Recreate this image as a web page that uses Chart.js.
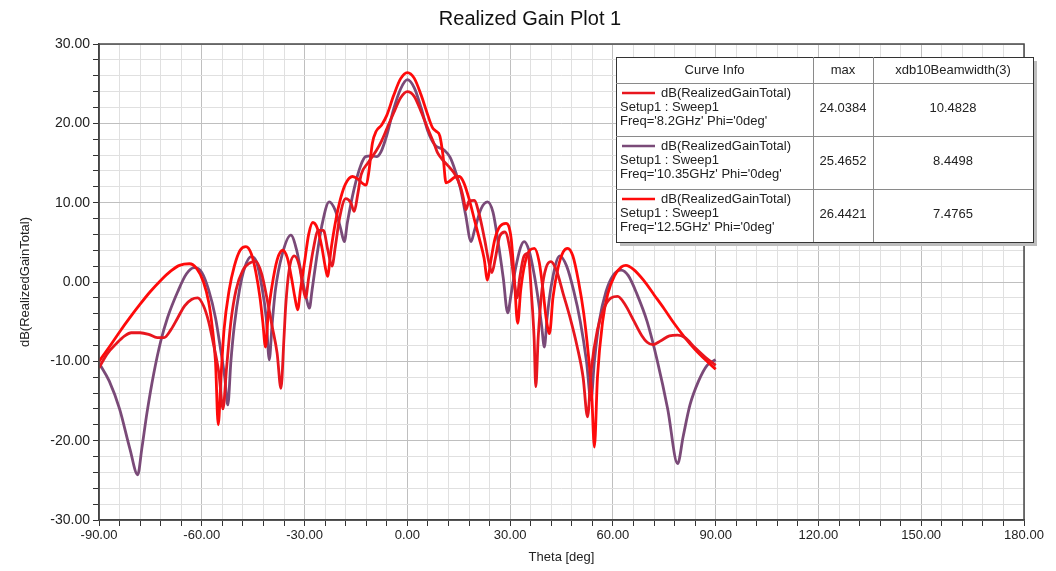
<!DOCTYPE html>
<html>
<head>
<meta charset="utf-8">
<script src="https://cdn.jsdelivr.net/npm/chart.js@4/dist/chart.umd.min.js"></script>
<style>
html,body{margin:0;padding:0;background:#fff}
canvas{display:block}
</style>
</head>
<body>
<canvas id="gainChart" width="1056" height="571"></canvas>
<script>
// curve data (theta in deg, gain in dB)
var theta82 = [-90,-87.5,-85,-82.5,-80.6,-78,-75.5,-73,-71,-69,-67,-65,-63,-61.2,-59.5,-58,-56.5,-55,-53.8,-52.8,-51.5,-50,-48,-46,-44.2,-42.5,-41,-39.5,-38,-36.9,-36,-35.5,-34.5,-33,-31.5,-30.5,-29.7,-28.8,-27.5,-26,-24.5,-23.2,-22,-21,-19.8,-18,-16.5,-15.5,-14.5,-13.5,-11.5,-9,-7.5,-6,-4,-2,0,2,4,6,8,8.8,10.5,12,13.7,15.5,16.4,17.1,18,19.5,21,22.5,23.8,24.7,25.7,27,28.5,30,31.2,32,32.8,34,35.2,36.3,37,37.5,38.2,39.3,40.5,41.9,43.5,45.5,47.5,49.5,51.3,52.6,53.7,55.5,57.5,59.5,61.4,63.5,66,68.5,70,71.6,74,76.5,78.9,81,84,87,90];
var gain82  = [-10.8,-9,-7.8,-6.8,-6.4,-6.4,-6.6,-7,-7,-6,-4.5,-3,-2.2,-2.0,-3,-5,-8,-11.5,-16,-11,-5,-1,1.5,2.4,2.6,1,-2,-5.5,-9,-13.4,-7,-3,1.5,3.3,2,-0.5,-2,0.5,4,6.5,6.5,4,2,4.5,8,10.5,10,8.9,11,13.5,15,16.6,17.8,19.3,21.3,23.2,24.0,23.4,21.5,19.3,17.2,16.3,15.3,14.6,13.7,12,10.5,9.1,10.2,10.3,8.5,5.5,2.5,1.2,3,5.8,6.3,4,0,-2,0.5,3.2,3.6,-2,-7,-13.2,-7,-1,1.8,2.56,1.5,-1.5,-4.5,-8,-12,-17,-11,-6,-3.2,-2,-1.8,-2.8,-4.8,-6.8,-7.6,-7.9,-7.4,-6.8,-6.7,-7,-8.3,-9.5,-10.5];

var theta1035 = [-90,-87,-84,-81,-78.7,-77.5,-76,-74,-72,-70,-67,-64.5,-62.2,-60,-58,-56,-54.5,-53.3,-52.4,-51.5,-50.5,-49,-47.5,-45.6,-44,-42.5,-41.2,-40.3,-39.5,-38.5,-36.5,-34,-32.3,-30.5,-29.4,-28.6,-27.8,-26.5,-25,-22.8,-21,-19.5,-18.4,-17.5,-15.5,-13.5,-12.2,-10.5,-9,-7.7,-6,-4,-2,0,2,4,6,8,10.8,12.5,14,15.5,17,18.6,19.6,21.5,23.4,25,26.5,28,29.3,30.3,31.5,33,34.1,35.5,37,38.3,39.2,40,40.8,42,44.5,46.5,48.5,50.5,52.3,53.6,54.6,56,58,60,62.4,64.5,67,70,73,76,78.9,80.5,82.5,85,87.5,90];
var gain1035  = [-10.2,-12.5,-16,-21,-24.3,-21,-16.5,-11.5,-7.5,-4.5,-1.2,1,1.8,1.2,-1,-4.5,-8.5,-12,-15.5,-10,-5.5,-1,1.8,3.2,2.5,-0.5,-4.5,-9.8,-5.5,-1,3.5,5.9,4,0,-2.2,-3.3,-1,3,7,10.1,9,6.8,5.1,7.5,11.8,14.8,15.8,15.9,15.8,16.4,18.5,21.8,24.3,25.5,24.5,22,19,17.3,16.6,15.7,14,11.8,8.5,5.1,6.5,9.2,10.1,8.8,5,0.5,-3.9,-1.5,1.5,4.3,5.1,4,1,-2.5,-5.5,-8.2,-4.5,-0.5,3.3,2,-1,-5,-10,-14.9,-10,-5,-1.2,0.8,1.5,0.8,-1.5,-5,-10,-16,-22.9,-19.5,-15.5,-12.5,-10.5,-9.8];

var theta125 = [-90,-87,-84,-81,-78,-75,-72,-69,-66.5,-63.6,-61.5,-59.5,-58,-57,-56,-55.2,-54.4,-53.5,-52,-50.5,-48.8,-47.1,-45.5,-44.2,-43,-42.2,-41.4,-40.6,-39.5,-38,-36.4,-35,-33.8,-32.8,-32,-31.2,-30,-28.8,-27.6,-26.3,-25,-24,-23.3,-22.3,-21,-19.5,-18,-16,-14.5,-13,-12,-11.2,-10.2,-9.1,-7.5,-6,-4,-2,0,2,4,6,7.3,8.4,9.5,10.4,11.3,12.3,13.8,15.2,16.5,18,19.5,21,22.4,23.4,24.3,25.6,27,28.8,30.3,31.3,32.2,33.1,34.3,35.7,37.1,38.5,39.6,40.5,41.5,42.5,44,45.5,46.8,48.3,50,51.5,52.8,53.8,54.6,55.5,57,58.5,60.5,62.5,63.8,66,69,72,75,78,81,84,87,90];
var gain125  = [-10,-8.2,-6.3,-4.5,-2.8,-1.2,0.2,1.4,2.1,2.3,1.7,0,-2.5,-5.5,-10,-18,-12,-6,-1,2,4,4.45,3.5,1.2,-2,-5,-8.2,-4,-0.5,2.8,4.0,3,0.5,-2,-3.5,-1,2.5,6,7.5,6.8,4.5,2,0.7,4,7.5,10.5,12.4,13.3,13,12.4,12.2,14,17.5,19.0,19.8,21,23.5,25.6,26.4,25.7,23.6,21,19.5,19.0,18.4,16,12.5,12.7,13.2,13.3,12.5,10.5,8,5.5,3,0.25,2.5,5.5,7,7.4,5.5,0,-5.2,-1,2.3,4,4.25,2.5,-1,-4.5,-6.5,-2,1.8,3.8,4.25,3.3,0,-4,-9,-14,-20.8,-12,-5,-1.5,0.8,1.9,2.1,1.6,0.2,-1.6,-3.4,-5.3,-7,-8.5,-9.8,-11];

// legend table text
var curveFreqs = ["Freq='8.2GHz' Phi='0deg'", "Freq='10.35GHz' Phi='0deg'", "Freq='12.5GHz' Phi='0deg'"];
var maxVals = ['24.0384', '25.4652', '26.4421'];
var beamVals = ['10.4828', '8.4498', '7.4765'];
var curveColors = ['#e8161e', '#7a4a78', '#ff0a0a'];

function toPts(xs, ys) {
	var out = [];
	for (var i = 0; i < xs.length; i++) {
		out.push({x: xs[i], y: ys[i]});
	}
	return out;
}

var FONT = "'Liberation Sans', Arial, sans-serif";

var framePlugin = {
	id: 'frameAndTable',
	afterDraw: function(chart) {
		var c = chart.ctx;
		var a = chart.chartArea;
		c.save();
		// plot frame
		c.strokeStyle = '#4a4a4a';
		c.lineWidth = 1.5;
		c.strokeRect(a.left, a.top, a.right - a.left, a.bottom - a.top);

		// title
		c.fillStyle = '#111';
		c.font = '20px ' + FONT;
		c.textAlign = 'center';
		c.textBaseline = 'middle';
		c.fillText('Realized Gain Plot 1', 530, 19);

		// curve info table
		var x0 = 616, x1 = 1033, y0 = 57, hH = 26, rH = 53;
		var col1 = 813, col2 = 873;
		var h = hH + rH * 3;
		c.fillStyle = '#bdbdbd';
		c.fillRect(x0 + 4, y0 + 4, x1 - x0, h);
		c.fillStyle = '#fff';
		c.fillRect(x0, y0, x1 - x0, h);
		c.strokeStyle = '#333';
		c.lineWidth = 1;
		c.strokeRect(x0 + 0.5, y0 + 0.5, x1 - x0, h);
		c.strokeStyle = '#8a8a8a';
		c.beginPath();
		c.moveTo(col1 + 0.5, y0); c.lineTo(col1 + 0.5, y0 + h);
		c.moveTo(col2 + 0.5, y0); c.lineTo(col2 + 0.5, y0 + h);
		for (var r = 0; r < 3; r++) {
			var yy = y0 + hH + rH * r + 0.5;
			c.moveTo(x0, yy); c.lineTo(x1, yy);
		}
		c.stroke();

		c.fillStyle = '#222';
		c.font = '13px ' + FONT;
		c.textAlign = 'center';
		c.fillText('Curve Info', (x0 + col1) / 2, y0 + 13);
		c.fillText('max', (col1 + col2) / 2, y0 + 13);
		c.fillText('xdb10Beamwidth(3)', (col2 + x1) / 2, y0 + 13);

		for (var i = 0; i < 3; i++) {
			var ry = y0 + hH + rH * i;
			c.strokeStyle = curveColors[i];
			c.lineWidth = 2.5;
			c.beginPath();
			c.moveTo(622, ry + 10); c.lineTo(655, ry + 10);
			c.stroke();
			c.fillStyle = '#222';
			c.textAlign = 'left';
			c.fillText('dB(RealizedGainTotal)', 661, ry + 10);
			c.fillText('Setup1 : Sweep1', 620, ry + 24);
			c.fillText(curveFreqs[i], 620, ry + 38);
			c.textAlign = 'center';
			c.fillText(maxVals[i], (col1 + col2) / 2, ry + 25);
			c.fillText(beamVals[i], (col2 + x1) / 2, ry + 25);
		}
		c.restore();
	}
};

var ctx = document.getElementById('gainChart').getContext('2d');
var gainChart = new Chart(ctx, {
	type: 'line',
	data: {
		datasets: [{
			label: "Freq='8.2GHz'",
			data: toPts(theta82, gain82),
			borderColor: curveColors[0],
			order: 0
		}, {
			label: "Freq='10.35GHz'",
			data: toPts(theta1035, gain1035),
			borderColor: curveColors[1],
			order: 1
		}, {
			label: "Freq='12.5GHz'",
			data: toPts(theta125, gain125),
			borderColor: curveColors[2],
			order: 0
		}]
	},
	options: {
		responsive: false,
		animation: false,
		devicePixelRatio: 1,
		parsing: false,
		elements: {
			line: { borderWidth: 2.8, cubicInterpolationMode: 'monotone', fill: false },
			point: { radius: 0 }
		},
		layout: { padding: { top: 44, right: 32, left: 0, bottom: 0 } },
		plugins: {
			legend: { display: false },
			title: { display: false },
			tooltip: { enabled: false }
		},
		scales: {
			x: {
				type: 'linear',
				min: -90,
				max: 180,
				afterFit: function(s) { s.height = 51; },
				afterBuildTicks: function(s) {
					var t = [];
					for (var v = -90; v <= 180; v += 6) t.push({value: v});
					s.ticks = t;
				},
				ticks: {
					autoSkip: false,
					maxRotation: 0,
					padding: 2,
					color: '#222',
					font: { family: FONT, size: 13 },
					callback: function(v) { return v % 30 === 0 ? v.toFixed(2) : ''; }
				},
				grid: {
					tickLength: 6,
					tickColor: '#333',
					color: function(c) { return c.tick && c.tick.value % 30 === 0 ? '#bfbfbf' : '#e0e0e0'; }
				},
				border: { color: '#333', width: 1.5 },
				title: {
					display: true,
					text: 'Theta [deg]',
					color: '#222',
					font: { family: FONT, size: 13 },
					padding: { top: 0, bottom: 6 }
				}
			},
			y: {
				min: -30,
				max: 30,
				afterFit: function(s) { s.width = 99; },
				afterBuildTicks: function(s) {
					var t = [];
					for (var v = -30; v <= 30; v += 2) t.push({value: v});
					s.ticks = t;
				},
				ticks: {
					autoSkip: false,
					padding: 3,
					color: '#222',
					font: { family: FONT, size: 14 },
					callback: function(v) { return v % 10 === 0 ? v.toFixed(2) : ''; }
				},
				grid: {
					tickLength: 6,
					tickColor: '#333',
					color: function(c) { return c.tick && c.tick.value % 10 === 0 ? '#bfbfbf' : '#e0e0e0'; }
				},
				border: { color: '#333', width: 1.5 },
				title: {
					display: true,
					text: 'dB(RealizedGainTotal)',
					color: '#222',
					font: { family: FONT, size: 13 },
					padding: { top: 18, bottom: 0 }
				}
			}
		}
	},
	plugins: [framePlugin]
});
</script>
</body>
</html>
